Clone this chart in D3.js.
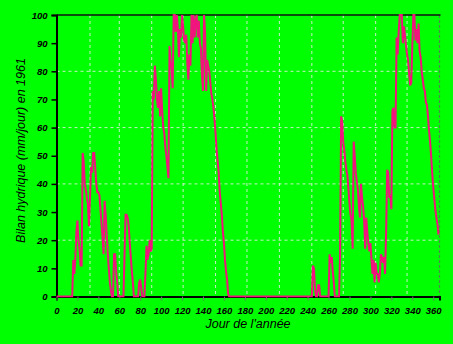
<!DOCTYPE html>
<html><head><meta charset="utf-8">
<script src="https://cdn.jsdelivr.net/npm/d3@7"></script>
<style>
html,body{margin:0;padding:0;background:#00ff00;}
svg{display:block;}
</style></head>
<body>
<svg id="chart" width="453" height="344"></svg>
<script>
// Daily water balance (mm/day), day 0 .. 365, year 1961
const bilan = [
 0,0,0,0,0,0,0,0,0,0,
 0,0,0,0,0,0,13,8,13,23,
 27,20,17,11,11,51,48,40,38,35,
 33,25,35,46,44,51,51,46,40,37,
 37,36,31,26,21,15,34,29,22,15,
 10,5,2,0,0,15,15,9,5,0,
 0,0,0,0,0,15,29,29,28,25,
 19,14,9,5,0,0,0,0,0,5,
 6,3,0,0,0,8,18,13,15,20,
 16,17,73,70,82,77,70,67,73,64,
 74,66,60,58,53,50,46,42,89,84,
 81,74,100,100,94,100,95,85,95,92,
 100,96,91,90,93,83,77,86,82,100,
 90,100,92,98,100,92,98,90,88,79,
 73,100,94,73,84,82,80,76,72,70,
 67,63,58,52,48,44,37,33,29,23,
 19,13,9,6,1,0,0,0,0,0,
 0,0,0,0,0,0,0,0,0,0,
 0,0,0,0,0,0,0,0,0,0,
 0,0,0,0,0,0,0,0,0,0,
 0,0,0,0,0,0,0,0,0,0,
 0,0,0,0,0,0,0,0,0,0,
 0,0,0,0,0,0,0,0,0,0,
 0,0,0,0,0,0,0,0,0,0,
 0,0,0,0,0,11,10,3,0,0,
 4,4,0,0,0,0,0,0,0,0,
 0,15,12,14,9,5,0,0,0,0,
 0,15,64,62,55,52,48,45,43,38,
 33,29,27,17,55,50,44,41,38,32,
 28,40,35,32,27,17,28,23,19,16,
 19,13,8,13,5,12,8,8,5,8,
 15,14,12,14,8,23,45,44,35,36,
 31,66,67,60,60,92,86,94,100,100,
 100,90,96,93,89,86,84,79,75,76,
 89,100,100,91,95,90,97,87,85,80,
 77,74,73,69,68,64,59,55,50,44,
 39,35,31,28,26,22
];
const xTicks = [0,20,40,60,80,100,120,140,160,180,200,220,240,260,280,300,320,340,360];
const yTicks = [0,10,20,30,40,50,60,70,80,90,100];
const yGrid = [20,40,60,80];
const monthStarts = [32,60,91,121,152,182,213,244,274,305,335,366];
const xTitle = "Jour de l'année";
const yTitle = "Bilan hydrique (mm/jour) en 1961";

const svg = d3.select("#chart");
const L = 56.5, R = 439.5, T = 15, B = 296.5;
const x = d3.scaleLinear().domain([0, 366]).range([L, R]);
const y = d3.scaleLinear().domain([0, 100]).range([B, T]);

svg.append("rect").attr("x",0).attr("y",0).attr("width",453).attr("height",344).attr("fill","#00ff00");

// grid
svg.append("g").selectAll("line").data(yGrid).join("line")
  .attr("x1", L).attr("x2", R).attr("y1", d=>y(d)).attr("y2", d=>y(d))
  .attr("stroke", "#c8f0c8").attr("stroke-width", 1).attr("stroke-dasharray", "3,3");
svg.append("g").selectAll("line").data(monthStarts.slice(0,-1)).join("line")
  .attr("x1", d=>x(d)).attr("x2", d=>x(d)).attr("y1", T).attr("y2", B)
  .attr("stroke", "#c8f0c8").attr("stroke-width", 1).attr("stroke-dasharray", "3,3");
// right border dashed
svg.append("line").attr("x1", x(366)).attr("x2", x(366)).attr("y1", T).attr("y2", B)
  .attr("stroke", "#4a8a4a").attr("stroke-width", 1.2).attr("stroke-dasharray", "3,2");
// top border
svg.append("line").attr("x1", L).attr("x2", R+1).attr("y1", T).attr("y2", T)
  .attr("stroke", "#111").attr("stroke-width", 1.5);

// axes
const yAxis = d3.axisLeft(y).tickValues(yTicks).tickSize(5).tickPadding(4).tickFormat(d3.format("d"));
const gy = svg.append("g").attr("transform", `translate(${L},0)`).call(yAxis);
gy.select(".domain").attr("stroke", "#000").attr("stroke-width", 2);
gy.selectAll(".tick line").attr("stroke", "#000").attr("stroke-width", 1.5);
gy.selectAll(".tick text").attr("font-family", "Liberation Sans, Arial, sans-serif")
  .attr("font-size", 9.5).attr("font-weight", "bold").attr("font-style", "italic").attr("fill", "#000");

const xAxis = d3.axisBottom(x).tickValues(xTicks).tickSize(4).tickPadding(7).tickFormat(d3.format("d"));
const gx = svg.append("g").attr("transform", `translate(0,${B})`).call(xAxis);
gx.select(".domain").attr("stroke", "#000").attr("stroke-width", 2);
gx.selectAll(".tick line").attr("stroke", "#707070").attr("stroke-width", 1);
gx.selectAll(".tick text").attr("font-family", "Liberation Sans, Arial, sans-serif")
  .attr("font-size", 9.5).attr("font-weight", "bold").attr("font-style", "italic").attr("fill", "#000");

// clip
svg.append("clipPath").attr("id","clip").append("rect")
  .attr("x", L).attr("y", T-1).attr("width", R-L+1).attr("height", B-T+2);

const line = d3.line().x((d,i)=>x(i)).y(d=>y(d));
svg.append("path").datum(bilan).attr("clip-path","url(#clip)")
  .attr("d", line).attr("fill", "none")
  .attr("stroke", "#f0147c").attr("stroke-width", 2).attr("stroke-linejoin", "miter");

// titles
svg.append("text").attr("x", (L+R)/2).attr("y", 328).attr("text-anchor", "middle")
  .attr("font-family", "Liberation Sans, Arial, sans-serif").attr("font-size", 12.5)
  .attr("font-style", "italic").attr("fill", "#000").text(xTitle);
svg.append("text").attr("transform", "translate(25,150.5) rotate(-90)").attr("text-anchor", "middle")
  .attr("font-family", "Liberation Sans, Arial, sans-serif").attr("font-size", 12.5)
  .attr("font-style", "italic").attr("fill", "#000").text(yTitle);
</script>
</body></html>
